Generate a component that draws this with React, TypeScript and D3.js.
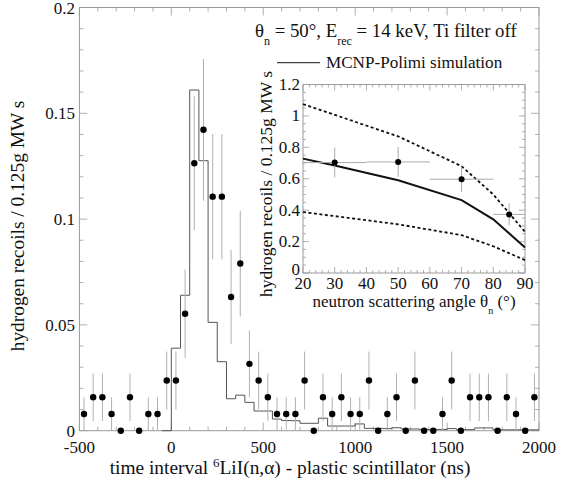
import React from "react";
import * as d3 from "d3";

// ---- main plot data (50 ns bins, bin centres) ----
const binCenters = d3.range(50).map((i) => -475 + i * 50);
const measured = [
  0.0079, 0.0158, 0.0158, 0.0079, 0, 0.0158, 0, 0.0079, 0.0079, 0.0237,
  0.0237, 0.0553, 0.1264, 0.1422, 0.1106, 0.1106, 0.0632, 0.079, 0.0316, 0.0237,
  0.0158, 0.0079, 0.0079, 0.0079, 0.0237, 0, 0.0158, 0.0079, 0.0158, 0.0079,
  0.0079, 0.0237, 0, 0.0079, 0.0158, 0, 0.0237, 0, 0, 0.0079,
  0.0237, 0, 0.0158, 0.0158, 0.0158, 0, 0.0158, 0.0079, 0, 0.0158,
];
const measuredErr = [
  0.0079, 0.0112, 0.0112, 0.0079, 0, 0.0112, 0, 0.0079, 0.0079, 0.0137,
  0.0137, 0.0209, 0.0316, 0.0335, 0.0296, 0.0296, 0.0223, 0.025, 0.0158, 0.0137,
  0.0112, 0.0079, 0.0079, 0.0079, 0.0137, 0, 0.0112, 0.0079, 0.0112, 0.0079,
  0.0079, 0.0137, 0, 0.0079, 0.0112, 0, 0.0137, 0, 0, 0.0079,
  0.0137, 0, 0.0112, 0.0112, 0.0112, 0, 0.0112, 0.0079, 0, 0.0112,
];
// simulation histogram: left bin edges and heights
const simEdges = d3.range(42).map((i) => -50 + i * 50);
const simValues = [
  0, 0.039, 0.064, 0.161, 0.1276, 0.0512, 0.0326, 0.0151, 0.0168, 0.0134,
  0.0093, 0.0093, 0.0055, 0.0048, 0.0047, 0.0035, 0.0035, 0.0059, 0.0022, 0.0022,
  0.0022, 0.0032, 0.0011, 0.0011, 0.001, 0.0014, 0.0008, 0.0008, 0.0006, 0.0006,
  0.0006, 0.001, 0.0005, 0.0005, 0.0013, 0.0013, 0.0004, 0.0004, 0.0004, 0.0004,
  0.0004, 0.0004,
];
const xTicks = [-500, 0, 500, 1000, 1500, 2000];
const yTicks = [0, 0.05, 0.1, 0.15, 0.2];
const yTickLabels = ["0", "0.05", "0.1", "0.15", "0.2"];

// ---- inset data ----
const insetAngles = [30, 50, 70, 85];
const insetValues = [0.703, 0.707, 0.597, 0.373];
const insetYErr = [0.095, 0.095, 0.08, 0.07];
const insetXLo = [20, 40, 60, 80];
const insetXHi = [40, 60, 80, 90];
const simAngles = [20, 30, 50, 70, 80, 90];
const simCentral = [0.728, 0.685, 0.59, 0.464, 0.342, 0.163];
const simUpperAngles = [20, 50, 70, 80, 90];
const simUpper = [1.075, 0.87, 0.68, 0.5, 0.262];
const simLower = [0.388, 0.31, 0.241, 0.17, 0.082];
const insetXTicks = [20, 30, 40, 50, 60, 70, 80, 90];
const insetYTicks = [0, 0.2, 0.4, 0.6, 0.8, 1, 1.2];
const insetYTickLabels = ["0", "0.2", "0.4", "0.6", "0.8", "1", "1.2"];

const FONT = "Liberation Serif, DejaVu Serif, serif";
const FRAME = "#9a9a9a";

export default function App() {
  const x = d3.scaleLinear().domain([-500, 2000]).range([79.4, 539]);
  const y = d3.scaleLinear().domain([0, 0.2]).range([430.7, 7.5]);
  const ix = d3.scaleLinear().domain([20, 90]).range([303, 525]);
  const iy = d3.scaleLinear().domain([0, 1.2]).range([273, 84.5]);

  const histPts: [number, number][] = simEdges.map((e, i) => [e, simValues[i]]);
  histPts.push([2000, simValues[simValues.length - 1]]);
  const stepLine = d3
    .line<[number, number]>()
    .x((d) => x(d[0]))
    .y((d) => y(d[1]))
    .curve(d3.curveStepAfter);

  const iline = d3
    .line<[number, number]>()
    .x((d) => ix(d[0]))
    .y((d) => iy(d[1]));

  const [x0, x1] = x.range();
  const [yb, yt] = y.range();
  const xMinor = d3.range(-500, 2001, 100);
  const yMinor = d3.range(0, 0.2001, 0.01);

  const [ix0, ix1] = ix.range();
  const [iyb, iyt] = iy.range();
  const ixMinor = d3.range(20, 90.01, 2);
  const iyMinor = d3.range(0, 1.2001, 0.05);

  const T = { fontFamily: FONT, fill: "#111" };

  return (
    <svg
      width={561}
      height={485}
      style={{ position: "absolute", left: 0, top: 0, background: "#fff", fontFamily: FONT }}
    >
      {/* main frame */}
      <rect x={x0} y={yt} width={x1 - x0} height={yb - yt} fill="none" stroke={FRAME} strokeWidth={1} />
      {xMinor.map((t) => {
        const major = xTicks.includes(t);
        const len = major ? 8 : 4;
        return (
          <g key={"xm" + t} stroke={FRAME} strokeWidth={0.8}>
            <line x1={x(t)} x2={x(t)} y1={yb} y2={yb - len} />
            <line x1={x(t)} x2={x(t)} y1={yt} y2={yt + len} />
          </g>
        );
      })}
      {yMinor.map((t, i) => {
        const major = i % 5 === 0;
        const len = major ? 8 : 4;
        return (
          <g key={"ym" + i} stroke={FRAME} strokeWidth={0.8}>
            <line x1={x0} x2={x0 + len} y1={y(t)} y2={y(t)} />
            <line x1={x1} x2={x1 - len} y1={y(t)} y2={y(t)} />
          </g>
        );
      })}
      {xTicks.map((t) => (
        <text key={"xl" + t} x={x(t)} y={453} textAnchor="middle" fontSize={17} style={T}>
          {t}
        </text>
      ))}
      {yTicks.map((t, i) => (
        <text key={"yl" + t} x={75} y={y(t) + 6} textAnchor="end" fontSize={17} style={T}>
          {yTickLabels[i]}
        </text>
      ))}

      {/* simulation histogram */}
      <path d={stepLine(histPts) || ""} fill="none" stroke="#555" strokeWidth={1} />

      {/* measured points */}
      {binCenters.map((c, i) =>
        measuredErr[i] > 0 ? (
          <line
            key={"e" + i}
            x1={x(c)}
            x2={x(c)}
            y1={y(measured[i] - measuredErr[i])}
            y2={y(measured[i] + measuredErr[i])}
            stroke="#b0b0b0"
            strokeWidth={1}
          />
        ) : null
      )}
      {binCenters.map((c, i) => (
        <circle key={"p" + i} cx={x(c)} cy={y(measured[i])} r={3.2} fill="#000" />
      ))}

      {/* axis labels */}
      <text x={290} y={474} textAnchor="middle" fontSize={19.4} style={T}>
        time interval <tspan dy={-7} fontSize={13}>6</tspan>
        <tspan dy={7}>LiI(n,α) - plastic scintillator (ns)</tspan>
      </text>
      <text
        transform={`translate(24,${226}) rotate(-90)`}
        textAnchor="middle"
        fontSize={19.4}
        style={T}
      >
        hydrogen recoils / 0.125g MW s
      </text>

      {/* title & legend */}
      <text x={255} y={37} fontSize={18.8} style={T}>
        θ<tspan dy={8} fontSize={12}>n</tspan>
        <tspan dy={-8}> = 50°, E</tspan>
        <tspan dy={8} fontSize={12}>rec</tspan>
        <tspan dy={-8}> = 14 keV, Ti filter off</tspan>
      </text>
      <line x1={277} x2={320} y1={62.7} y2={62.7} stroke="#111" strokeWidth={1} />
      <text x={326} y={68} fontSize={17.1} style={T}>
        MCNP-Polimi simulation
      </text>

      {/* inset */}
      <rect x={ix0} y={iyt} width={ix1 - ix0} height={iyb - iyt} fill="#fff" stroke={FRAME} strokeWidth={1} />
      {ixMinor.map((t, i) => {
        const major = i % 5 === 0;
        const len = major ? 6 : 3;
        return (
          <g key={"ixm" + i} stroke={FRAME} strokeWidth={0.8}>
            <line x1={ix(t)} x2={ix(t)} y1={iyb} y2={iyb - len} />
            <line x1={ix(t)} x2={ix(t)} y1={iyt} y2={iyt + len} />
          </g>
        );
      })}
      {iyMinor.map((t, i) => {
        const major = i % 4 === 0;
        const len = major ? 6 : 3;
        return (
          <g key={"iym" + i} stroke={FRAME} strokeWidth={0.8}>
            <line x1={ix0} x2={ix0 + len} y1={iy(t)} y2={iy(t)} />
            <line x1={ix1} x2={ix1 - len} y1={iy(t)} y2={iy(t)} />
          </g>
        );
      })}
      {insetXTicks.map((t) => (
        <text key={"ixl" + t} x={ix(t)} y={289} textAnchor="middle" fontSize={17} style={T}>
          {t}
        </text>
      ))}
      {insetYTicks.map((t, i) => (
        <text key={"iyl" + t} x={300} y={iy(t) + (t === 0 ? 2 : 5.5)} textAnchor="end" fontSize={17} style={T}>
          {insetYTickLabels[i]}
        </text>
      ))}
      <text x={414} y={307} textAnchor="middle" fontSize={17} style={T}>
        neutron scattering angle θ<tspan dy={7} fontSize={10}>n</tspan>
        <tspan dy={-7}> (°)</tspan>
      </text>
      <text
        transform={`translate(272,${184}) rotate(-90)`}
        textAnchor="middle"
        fontSize={17.5}
        style={T}
      >
        hydrogen recoils / 0.125g MW s
      </text>

      <path
        d={iline(simUpperAngles.map((a, i) => [a, simUpper[i]] as [number, number])) || ""}
        fill="none"
        stroke="#111"
        strokeWidth={1.8}
        strokeDasharray="3,2.5"
      />
      <path
        d={iline(simUpperAngles.map((a, i) => [a, simLower[i]] as [number, number])) || ""}
        fill="none"
        stroke="#111"
        strokeWidth={1.8}
        strokeDasharray="3,2.5"
      />
      <path
        d={iline(simAngles.map((a, i) => [a, simCentral[i]] as [number, number])) || ""}
        fill="none"
        stroke="#111"
        strokeWidth={2}
      />
      {insetAngles.map((a, i) => (
        <g key={"ip" + i} stroke="#aaa" strokeWidth={1}>
          <line x1={ix(insetXLo[i])} x2={ix(insetXHi[i])} y1={iy(insetValues[i])} y2={iy(insetValues[i])} />
          <line
            x1={ix(a)}
            x2={ix(a)}
            y1={iy(insetValues[i] - insetYErr[i])}
            y2={iy(insetValues[i] + insetYErr[i])}
          />
        </g>
      ))}
      {insetAngles.map((a, i) => (
        <circle key={"ic" + i} cx={ix(a)} cy={iy(insetValues[i])} r={3} fill="#000" />
      ))}
    </svg>
  );
}
